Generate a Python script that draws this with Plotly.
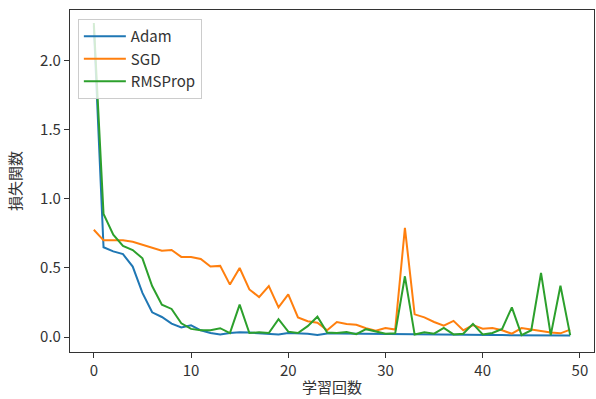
import plotly.graph_objects as go

epochs = list(range(50))

adam = [2.25, 0.65, 0.62, 0.60, 0.51, 0.32, 0.18, 0.146, 0.098, 0.07,
        0.086, 0.05, 0.03, 0.02, 0.03, 0.035, 0.033, 0.03, 0.025, 0.02,
        0.03, 0.028, 0.025, 0.015, 0.026, 0.026, 0.025, 0.025, 0.024, 0.022,
        0.022, 0.02, 0.02, 0.018, 0.018, 0.017, 0.017, 0.016, 0.016, 0.016,
        0.015, 0.015, 0.015, 0.014, 0.014, 0.014, 0.013, 0.013, 0.012, 0.012]

sgd = [0.776, 0.70, 0.70, 0.70, 0.69, 0.67, 0.65, 0.625, 0.63, 0.58,
       0.58, 0.565, 0.51, 0.515, 0.38, 0.50, 0.345, 0.29, 0.37, 0.216,
       0.31, 0.143, 0.115, 0.105, 0.05, 0.11, 0.096, 0.09, 0.065, 0.047,
       0.067, 0.055, 0.79, 0.165, 0.143, 0.11, 0.083, 0.118, 0.05, 0.088,
       0.061, 0.066, 0.05, 0.025, 0.066, 0.055, 0.043, 0.034, 0.028, 0.055]

rmsprop = [2.27, 0.89, 0.74, 0.66, 0.63, 0.57, 0.37, 0.235, 0.204, 0.10,
           0.06, 0.05, 0.05, 0.065, 0.03, 0.235, 0.03, 0.035, 0.03, 0.13,
           0.04, 0.03, 0.08, 0.148, 0.033, 0.03, 0.037, 0.022, 0.058, 0.042,
           0.025, 0.028, 0.44, 0.019, 0.035, 0.025, 0.067, 0.02, 0.025, 0.096,
           0.02, 0.03, 0.06, 0.216, 0.015, 0.05, 0.464, 0.015, 0.372, 0.015]

series_names = ["Adam", "SGD", "RMSProp"]
series_colors = ["#1f77b4", "#ff7f0e", "#2ca02c"]

x_ticks = [0, 10, 20, 30, 40, 50]
y_ticks = [0.0, 0.5, 1.0, 1.5, 2.0]
x_title = "学習回数"
y_title = "損失関数"

FONT = "Noto Sans CJK JP, Noto Sans, DejaVu Sans, sans-serif"
FS = 15

fig = go.Figure()
for name, vals, col in zip(series_names, [adam, sgd, rmsprop], series_colors):
    fig.add_trace(go.Scatter(x=epochs, y=vals, mode="lines", name=name,
                             line=dict(color=col, width=2)))

axis_common = dict(showline=True, linecolor="#333", linewidth=1.2, mirror=True,
                   ticks="outside", ticklen=5, tickcolor="#333", tickwidth=1.2,
                   showgrid=False, zeroline=False, automargin=False,
                   tickfont=dict(family=FONT, size=FS, color="#333"))

fig.update_layout(
    width=596, height=399,
    margin=dict(l=70, r=2, t=10, b=47),
    paper_bgcolor="white", plot_bgcolor="white",
    font=dict(family=FONT, size=FS, color="#333"),
    xaxis=dict(range=[-2.45, 51.45], tickvals=x_ticks,
               title=dict(text=x_title, font=dict(family=FONT, size=FS), standoff=3),
               **axis_common),
    yaxis=dict(range=[-0.107, 2.364], tickvals=y_ticks, tickformat=".1f",
               title=dict(text=y_title, font=dict(family=FONT, size=FS), standoff=14),
               **axis_common),
    legend=dict(x=0.015, y=0.974, xanchor="left", yanchor="top",
                bgcolor="rgba(255,255,255,0.8)", bordercolor="#cccccc", borderwidth=1,
                font=dict(family=FONT, size=FS, color="#333"),
                itemwidth=42, tracegroupgap=0),
    showlegend=True,
)

fig.write_html("out.html", config={"displayModeBar": False},
               post_script="document.body.style.margin='0';")
